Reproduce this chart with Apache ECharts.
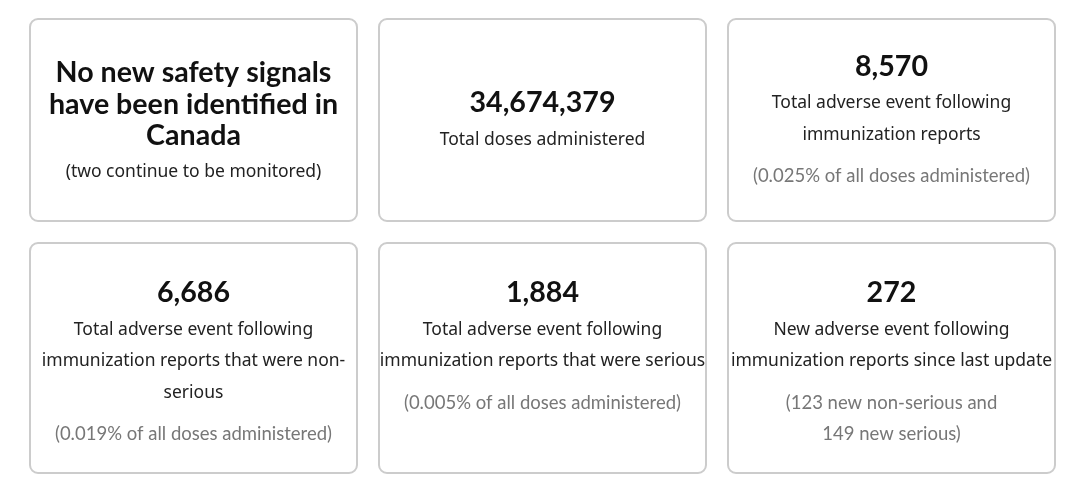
<!DOCTYPE html>
<html>
<head>
<meta charset="utf-8">
<script src="https://cdn.jsdelivr.net/npm/echarts@6/dist/echarts.min.js"></script>
<style>
  html, body { margin: 0; padding: 0; background: #fff; }
  #main { width: 1080px; height: 486px; }
</style>
</head>
<body>
<div id="main"></div>
<script>
// card texts, in reading order (row by row)
var titleLines = [
    ['No new safety signals', 'have been identified in', 'Canada'],
    ['34,674,379'],
    ['8,570'],
    ['6,686'],
    ['1,884'],
    ['272']
];
var labelLines = [
    ['(two continue to be monitored)'],
    ['Total doses administered'],
    ['Total adverse event following', 'immunization reports'],
    ['Total adverse event following', 'immunization reports that were non-', 'serious'],
    ['Total adverse event following', 'immunization reports that were serious'],
    ['New adverse event following', 'immunization reports since last update']
];
var noteLines = [
    [],
    [],
    ['(0.025% of all doses administered)'],
    ['(0.019% of all doses administered)'],
    ['(0.005% of all doses administered)'],
    ['(123 new non-serious and', '149 new serious)']
];

var chart = echarts.init(document.getElementById('main'));

var colX = [30, 379, 728];
var rowY = [19, 243];
var rowH = [202, 230];
var cardW = 327;

function textEl(str, cx, cy, font, color) {
    return {
        type: 'text',
        x: cx,
        y: cy,
        silent: true,
        style: {
            text: str,
            font: font,
            fill: color,
            align: 'center',
            verticalAlign: 'middle',
            textAlign: 'center',
            textVerticalAlign: 'middle'
        }
    };
}

var elements = [];
for (var i = 0; i < titleLines.length; i++) {
    var row = Math.floor(i / 3);
    var x0 = colX[i % 3];
    var y0 = rowY[row];
    var cx = x0 + cardW / 2;

    elements.push({
        type: 'rect',
        silent: true,
        shape: { x: x0, y: y0, width: cardW, height: rowH[row], r: 8 },
        style: { fill: '#fff', stroke: '#cccccc', lineWidth: 2 }
    });

    // stack of lines: [text, font, colour, distance from previous centre]
    var stack = [];
    var big = titleLines[i].length > 1;
    titleLines[i].forEach(function (t, k) {
        stack.push([t, 'bold 28.6px Lato', '#111', k == 0 ? 0 : 31.5]);
    });
    labelLines[i].forEach(function (t, k) {
        stack.push([t, '17.5px "Noto Sans"', '#222', k == 0 ? (big ? 36 : 37) : 31.5]);
    });
    noteLines[i].forEach(function (t, k) {
        stack.push([t, '18.5px Lato', '#777', k == 0 ? 41.5 : 31]);
    });

    var span = 0;
    for (var s = 1; s < stack.length; s++) span += stack[s][3];
    var first;
    if (row == 0) {
        first = y0 + rowH[row] / 2 + (big ? 2.5 : 1.5) - span / 2;
    } else {
        first = y0 + 50;
    }
    var cy = first;
    for (var s = 0; s < stack.length; s++) {
        cy += stack[s][3];
        elements.push(textEl(stack[s][0], cx, cy, stack[s][1], stack[s][2]));
    }
}

option = {
    backgroundColor: '#fff',
    animation: false,
    graphic: { elements: elements }
};
chart.setOption(option);
</script>
</body>
</html>
